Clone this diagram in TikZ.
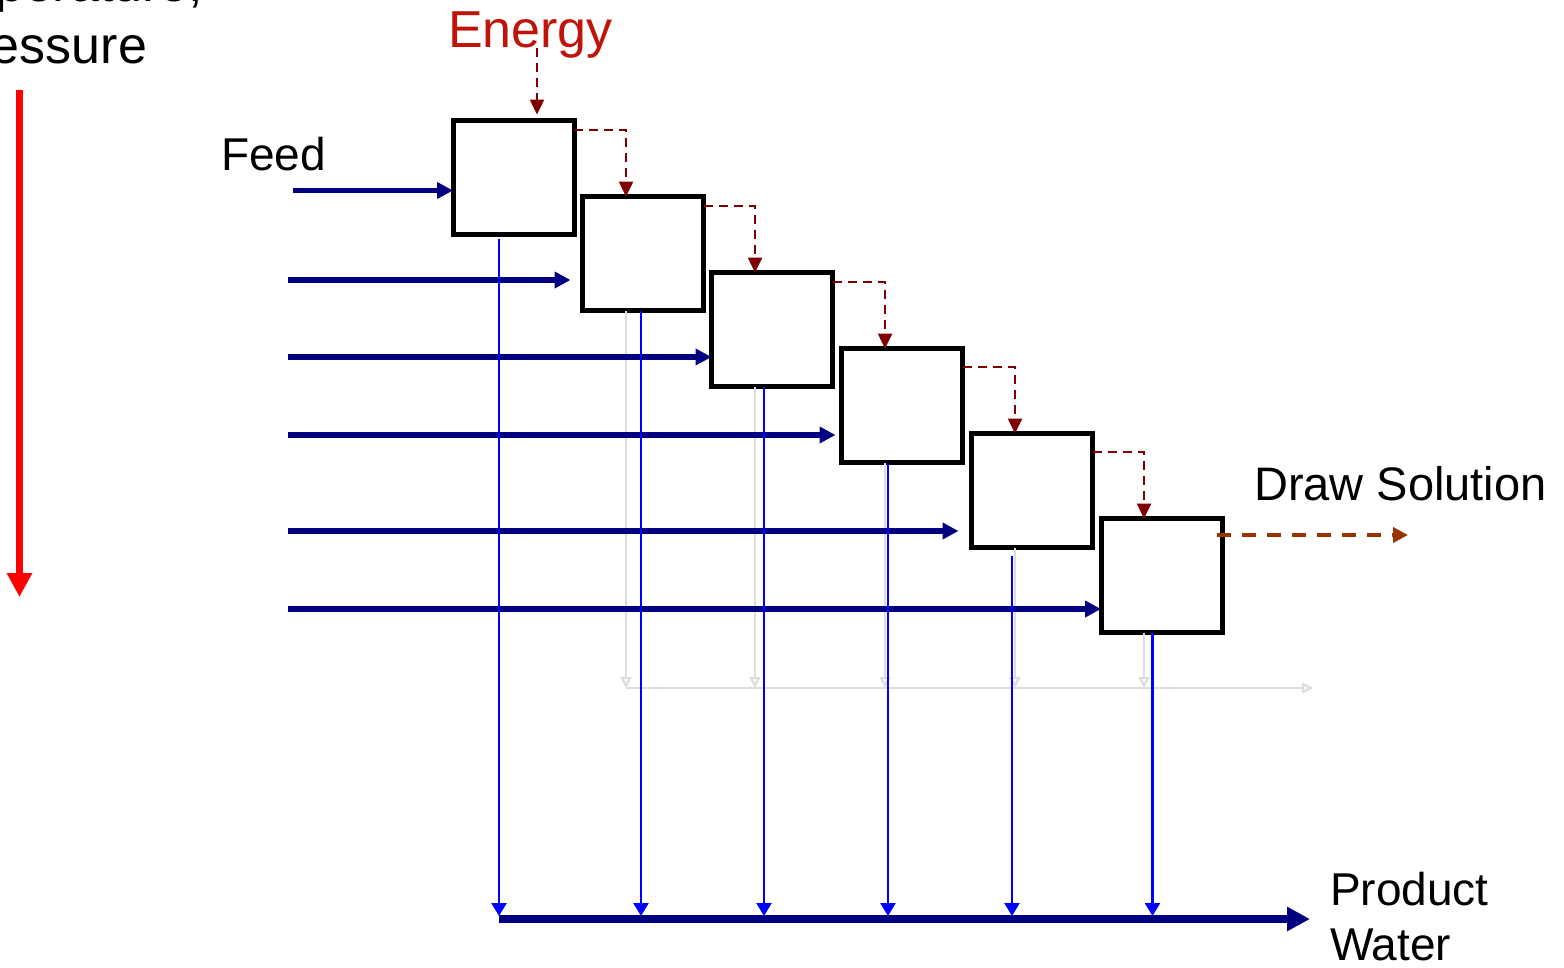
\documentclass[tikz,border=0pt]{standalone}
\usepackage{fontspec}
\setmainfont{Liberation Sans}
\usetikzlibrary{arrows.meta,calc}
\definecolor{navy}{RGB}{0,0,128}
\definecolor{pblue}{RGB}{0,0,255}
\definecolor{edark}{RGB}{128,0,0}
\definecolor{etext}{RGB}{192,20,10}
\definecolor{dsol}{RGB}{153,51,0}
\definecolor{faint}{RGB}{220,220,220}
\definecolor{pred}{RGB}{255,0,0}
\begin{document}
\begin{tikzpicture}[x=1pt,y=-1pt,
  stage/.style={draw=black,line width=5pt,minimum width=121pt,minimum height=114pt,inner sep=0pt,outer sep=0pt},
  feedline/.style={draw=navy,line width=5.5pt,-{Triangle[length=16pt,width=16pt]}},
  prodline/.style={draw=pblue,line width=2.3pt,-{Triangle[length=13pt,width=15pt]}},
  energyline/.style={draw=edark,line width=2.5pt,dash pattern=on 9pt off 6pt,-{Triangle[length=15pt,width=14pt]}},
  faintline/.style={draw=faint,line width=2.2pt,-{Triangle[open,length=11pt,width=11pt]}},
  lbl/.style={inner sep=0pt,anchor=base west}]
\useasboundingbox (0,0) rectangle (1564,967);

% stages
\node[stage] (b1) at (513.5,177.5) {};
\node[stage] (b2) at (643,253.5) {};
\node[stage] (b3) at (772,329.5) {};
\node[stage] (b4) at (902,405.5) {};
\node[stage] (b5) at (1032,490.5) {};
\node[stage] (b6) at (1161.5,575.5) {};

% labels
\node[anchor=base,inner sep=0pt,font=\fontsize{52}{58}\selectfont] (tl1) at (50,1) {Temperature,};
\node[anchor=base,inner sep=0pt,font=\fontsize{52}{58}\selectfont] (tl2) at (43,63) {Pressure};
\node[anchor=base,inner sep=0pt,text=etext,font=\fontsize{52}{58}\selectfont] (en) at (530.5,47) {Energy};
\node[lbl,font=\fontsize{46}{55}\selectfont] (feed) at (221,170) {Feed};
\node[lbl,font=\fontsize{47}{55}\selectfont] (dsl) at (1254,500) {Draw Solution};
\node[lbl,font=\fontsize{46}{55}\selectfont] (pw1) at (1330,905) {Product};
\node[lbl,font=\fontsize{46}{55}\selectfont] (pw2) at (1330,960) {Water};

% red arrow
\coordinate (r0) at (19.5,90);
\coordinate (r1) at (19.5,597);
\draw[draw=pred,line width=7.7pt,-{Triangle[length=24pt,width=24pt]}] (r0) -- (r1);

% faint grey arrows
\coordinate (g0) at (626,688);
\coordinate (g1) at (1313,688);
\coordinate (g2) at (755,688);
\coordinate (g3) at (885,688);
\coordinate (g4) at (1015,688);
\coordinate (g5) at (1144,688);
\draw[faintline] (g0) -- (g1);
\draw[faintline] (b2.south -| g0) -- (g0);
\draw[faintline] (b3.south -| g2) -- (g2);
\draw[faintline] (b4.south -| g3) -- (g3);
\draw[faintline] (b5.south -| g4) -- (g4);
\draw[faintline] (b6.south -| g5) -- (g5);

% feed arrows
\coordinate (f1) at (293,190.5);
\coordinate (f2) at (288,280);
\coordinate (f3) at (288,357);
\coordinate (f4) at (288,435);
\coordinate (f5) at (288,531);
\coordinate (f6) at (288,609);
\draw[feedline] (f1) -- (f1 -| b1.west);
\draw[feedline,shorten >=12pt] (f2) -- (f2 -| b2.west);
\draw[feedline] (f3) -- (f3 -| b3.west);
\draw[feedline,shorten >=6pt] (f4) -- (f4 -| b4.west);
\draw[feedline,shorten >=13pt] (f5) -- (f5 -| b5.west);
\draw[feedline] (f6) -- (f6 -| b6.west);

% product lines
\coordinate (p1) at (499,916);
\coordinate (p2) at (641,916);
\coordinate (p3) at (764,916);
\coordinate (p4) at (888,916);
\coordinate (p5) at (1012,916);
\coordinate (p6) at (1152.5,916);
\draw[prodline] ([yshift=-4pt]b1.south -| p1) -- (p1);
\draw[prodline] (b2.south -| p2) -- (p2);
\draw[prodline] (b3.south -| p3) -- (p3);
\draw[prodline] (b4.south -| p4) -- (p4);
\draw[prodline] ([yshift=-8pt]b5.south -| p5) -- (p5);
\draw[prodline] (b6.south -| p6) -- (p6);

\coordinate (w0) at (499,919);
\coordinate (w1) at (1310,919);
\draw[draw=navy,line width=7.5pt,-{Triangle[length=23pt,width=23pt]}] (w0) -- (w1);

% energy
\coordinate (e0) at (537,48);
\draw[energyline,shorten >=6pt] (e0) -- (e0 |- b1.north);
\coordinate (k1) at (626,130);
\coordinate (k2) at (755,206);
\coordinate (k3) at (885,282);
\coordinate (k4) at (1015,367);
\coordinate (k5) at (1144,452);
\draw[energyline] (k1 -| b1.east) -- (k1) -- (k1 |- b2.north);
\draw[energyline] (k2 -| b2.east) -- (k2) -- (k2 |- b3.north);
\draw[energyline] (k3 -| b3.east) -- (k3) -- (k3 |- b4.north);
\draw[energyline] (k4 -| b4.east) -- (k4) -- (k4 |- b5.north);
\draw[energyline] (k5 -| b5.east) -- (k5) -- (k5 |- b6.north);

% draw solution
\coordinate (ds) at (1408,535);
\draw[draw=dsol,line width=4pt,dash pattern=on 14pt off 11pt,-{Triangle[length=15pt,width=15pt]}] ([xshift=-5pt]b6.east |- ds) -- (ds);
\end{tikzpicture}
\end{document}
